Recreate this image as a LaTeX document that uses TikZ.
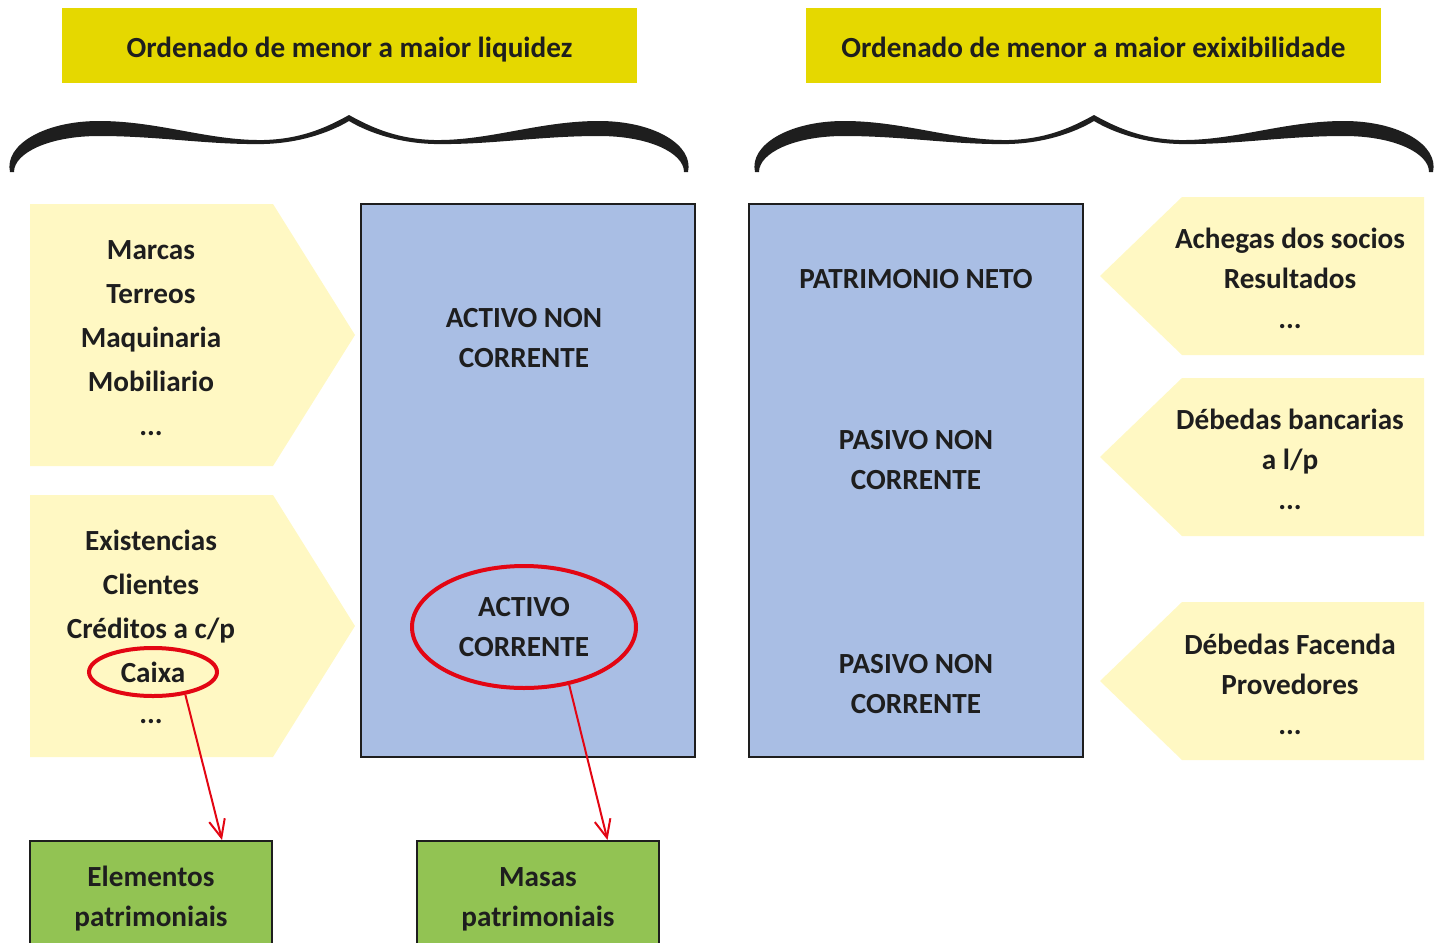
\documentclass[tikz,border=0pt]{standalone}
\usepackage{fontspec}
\setmainfont{Carlito}
\usetikzlibrary{shapes.geometric,arrows.meta}
\definecolor{titleyellow}{HTML}{E5D800}
\definecolor{paleyellow}{HTML}{FFF8C3}
\definecolor{massblue}{HTML}{A9BEE4}
\definecolor{boxgreen}{HTML}{92C353}
\definecolor{markred}{HTML}{E30613}
\definecolor{inkgray}{HTML}{1E1E1E}
\tikzset{
  txt/.style={text=inkgray, font=\bfseries\fontsize{14.6}{20}\selectfont, align=center, inner sep=0pt},
  listtxt/.style={txt, font=\bfseries\fontsize{14.6}{22}\selectfont},
  titletxt/.style={txt, text depth=0pt},
  massbox/.style={fill=massblue, draw=inkgray, line width=1pt, minimum width=167pt, minimum height=276.5pt},
  greenbox/.style={txt, fill=boxgreen, draw=inkgray, line width=1pt, minimum width=121pt, minimum height=60pt},
  ring/.style={txt, ellipse, draw=markred, line width=2pt},
  redarrow/.style={draw=markred, line width=1pt, -{Straight Barb[length=9pt,width=8pt]}},
  halfbrace/.pic={
    \fill[inkgray] (0,0) .. controls (-25,14) and (-50,24) .. (-85,25)
      .. controls (-140,26) and (-190,6) .. (-250,6)
      .. controls (-305,6) and (-345,30) .. (-339,57) -- (-335,57)
      .. controls (-335,38) and (-300,21) .. (-250,21)
      .. controls (-190,21) and (-140,30) .. (-85,29)
      .. controls (-50,28) and (-20,18) .. (0,6) -- cycle;
  }
}
\begin{document}
\begin{tikzpicture}[x=0.5pt,y=-0.5pt]
\clip (0,0) rectangle (1445,942);

% titles
\fill[titleyellow] (62,8) rectangle (637,83);
\fill[titleyellow] (806,8) rectangle (1381,83);
\node[titletxt] (liquidez) at (349.5,47) {Ordenado de menor a maior liquidez};
\node[titletxt] (exixib) at (1093.5,47) {Ordenado de menor a maior exixibilidade};

% braces
\foreach \bx in {349,1094} {
  \pic at (\bx,115) {halfbrace};
  \pic[xscale=-1] at (\bx,115) {halfbrace};
}

% yellow arrows, left side
\fill[paleyellow] (30,204) -- (273,204) -- (355,335) -- (273,466) -- (30,466) -- cycle;
\fill[paleyellow] (30,495) -- (273,495) -- (355,626) -- (273,757) -- (30,757) -- cycle;

% yellow arrows, right side
\foreach \ty in {197,378,602} {
  \fill[paleyellow] (1424,\ty) -- (1182,\ty) -- (1100,\ty+79) -- (1182,\ty+158) -- (1424,\ty+158) -- cycle;
}

% masses
\node[massbox] (activo) at (528,480.5) {};
\node[massbox] (pasivo) at (916,480.5) {};

% left lists
\node[listtxt] (fixos) at (151,338) {Marcas\\Terreos\\Maquinaria\\Mobiliario\\...};
\node[listtxt] (correntes) at (151,587) {Existencias\\Clientes\\Créditos a c/p};
\node[ring, minimum width=64pt, minimum height=24pt] (caixa) at (153,672) {Caixa};
\node[txt] (mais) at (151,722) {...};

% inside the masses
\node[txt] (anc) at (524,338) {ACTIVO NON\\CORRENTE};
\node[ring, minimum width=112pt, minimum height=61pt] (ac) at (524,627) {ACTIVO\\CORRENTE};
\node[txt] (pn) at (916,279) {PATRIMONIO NETO};
\node[txt] (pnc) at (916,460) {PASIVO NON\\CORRENTE};
\node[txt] (pc) at (916,684) {PASIVO NON\\CORRENTE};

% right lists
\node[txt] (socios) at (1290,278) {Achegas dos socios\\Resultados\\...};
\node[txt] (bancos) at (1290,459) {Débedas bancarias\\a l/p\\...};
\node[txt] (facenda) at (1290,684) {Débedas Facenda\\Provedores\\...};

% bottom
\node[greenbox] (elem) at (151,901) {};
\node[txt] (elemtxt) at (151,899) {Elementos\\patrimoniais};
\node[greenbox] (masas) at (537.5,901) {};
\node[txt] (masastxt) at (538,899) {Masas\\patrimoniais};

\draw[redarrow] (caixa.-35) -- ([xshift=35.5pt]elem.north);
\draw[redarrow] (ac.-52) -- ([xshift=35pt]masas.north);
\end{tikzpicture}
\end{document}
